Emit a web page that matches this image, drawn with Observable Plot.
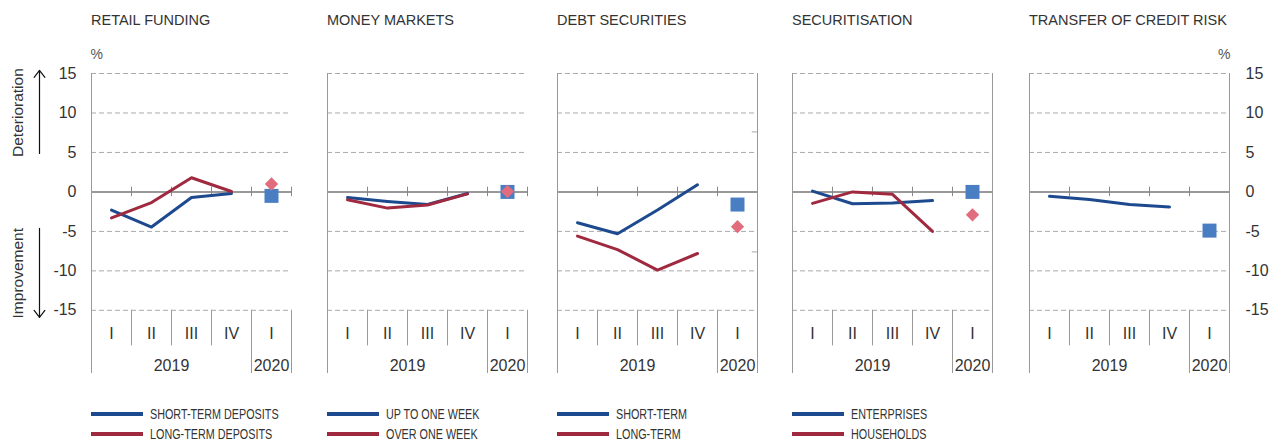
<!DOCTYPE html>
<html><head><meta charset="utf-8">
<script src="https://cdn.jsdelivr.net/npm/d3@7"></script>
<script src="https://cdn.jsdelivr.net/npm/@observablehq/plot@0.6"></script>
<style>
body{margin:0;background:#fff;}
#wrap{position:relative;width:1270px;height:441px;overflow:hidden;font-family:'Liberation Sans',Arial,sans-serif;color:#333;}
.title{position:absolute;top:13px;font-size:14.5px;line-height:14.5px;white-space:nowrap;color:#333;}
.panel{position:absolute;top:40px;}
.leg{position:absolute;height:18px;line-height:18px;white-space:nowrap;font-family:'Liberation Sans',Arial,sans-serif;font-size:14px;color:#333;}
.sw{display:inline-block;width:52px;height:4px;vertical-align:middle;margin-right:7px;position:relative;top:-1px;}
.lt{display:inline-block;transform:scaleX(0.77);transform-origin:0 50%;}
</style></head>
<body><div id="wrap"></div>
<script>
// ---------- data ----------
const panelTitles = ["RETAIL FUNDING","MONEY MARKETS","DEBT SECURITIES","SECURITISATION","TRANSFER OF CREDIT RISK"];
const quarterLabels = ["I","II","III","IV","I"];
const yearLabels = ["2019","2020"];
const yearQuarterCounts = [4,1];
const yTicks = [-15,-10,-5,0,5,10,15];

const legendBlue = ["SHORT-TERM DEPOSITS","UP TO ONE WEEK","SHORT-TERM","ENTERPRISES",null];
const legendRed  = ["LONG-TERM DEPOSITS","OVER ONE WEEK","LONG-TERM","HOUSEHOLDS",null];

// 2019 quarterly values (I..IV)
const retailShort = [-2.3,-4.45,-0.7,-0.2];
const retailLong  = [-3.3,-1.35,1.8,0.05];
const moneyUpWeek = [-0.7,-1.2,-1.6,-0.2];
const moneyOverWeek = [-1.0,-2.05,-1.65,-0.25];
const debtShort = [-3.9,-5.3,-2.3,0.9];
const debtLong  = [-5.6,-7.3,-9.9,-7.8];
const securEnterprises = [0.1,-1.5,-1.4,-1.1];
const securHouseholds  = [-1.45,0.0,-0.3,-5.0];
const transferRisk = [-0.55,-0.95,-1.6,-1.9];

// 2020 Q1 expectations
const blue2020 = [-0.5,0.0,-1.6,0.0,-4.9];
const red2020  = [1.0,0.05,-4.4,-2.9,null];

const blueSeries = [retailShort,moneyUpWeek,debtShort,securEnterprises,transferRisk];
const redSeries  = [retailLong,moneyOverWeek,debtLong,securHouseholds,null];

// ---------- layout / style ----------
const panelLefts = [91,327,557,792,1029];
const panelW = 200;
const BLUE = "#1d4a8e", RED = "#9f2a40", SQ = "#4a7ec3", DIA = "#e06c7d";
const fullRight = [false,false,true,true,true];

const wrap = document.getElementById("wrap");

let acc = 0;
const yearRows = yearLabels.map((y,i)=>{const c = acc + yearQuarterCounts[i]/2; const start = acc; acc += yearQuarterCounts[i]; return {label:y, x:c, start};});
const quarterRows = quarterLabels.map((q,i)=>({label:q, x:i+0.5}));

panelTitles.forEach((t,p)=>{
  const d = document.createElement("div");
  d.className = "title"; d.textContent = t;
  d.style.left = panelLefts[p] + "px";
  wrap.appendChild(d);

  const isFirst = p===0, isLast = p===4;
  const mL = isFirst ? 91 : 10;
  const mR = isLast ? 42 : 10;

  const blue = blueSeries[p].map((v,i)=>({x:i+0.5,y:v}));
  const red = redSeries[p] ? redSeries[p].map((v,i)=>({x:i+0.5,y:v})) : [];
  const x2020 = quarterLabels.length - 0.5;

  const marks = [
    Plot.ruleY(yTicks.filter(v=>v!==0), {x1:0, x2:5, stroke:"#aaa", strokeDasharray:"5,3"}),
    Plot.ruleY([0], {x1:0, x2:5, stroke:"#777", strokeWidth:1.5}),
    Plot.ruleX([1,2,3,4,5], {y1:-0.6, y2:0.6, stroke:"#888"}),
    Plot.ruleX([0], {y1:-23, y2:15, stroke:"#999"}),
    Plot.ruleX([5], {y1:-23, y2: fullRight[p] ? 15 : -15, stroke:"#999"}),
    Plot.ruleX([1,2,3], {y1:-19.5, y2:-15, stroke:"#999"}),
    Plot.ruleX(yearRows.slice(1).map(r=>r.start), {y1:-23, y2:-15, stroke:"#999"}),
    Plot.text(quarterRows, {x:"x", y:()=>-17.95, text:"label", fontSize:16, fill:"#333"}),
    Plot.text(yearRows, {x:"x", y:()=>-22, text:"label", fontSize:16, fill:"#333"}),
    Plot.line(blue, {x:"x", y:"y", stroke:BLUE, strokeWidth:3}),
    red.length ? Plot.line(red, {x:"x", y:"y", stroke:RED, strokeWidth:3}) : null,
    Plot.dot([{x:x2020, y:blue2020[p]}], {x:"x", y:"y", symbol:"square", r:7.9, fill:SQ}),
    red2020[p]!==null ? Plot.dot([{x:x2020, y:red2020[p]}], {x:"x", y:"y", symbol:"diamond2", r:6, fill:DIA}) : null
  ];
  if (p===2) marks.push(Plot.ruleY([7.6,-7.6], {x1:4.87, x2:5, stroke:"#aaa"}));
  if (isFirst) {
    marks.push(Plot.axisY({ticks:yTicks, tickSize:0, tickPadding:15, fontSize:16, tickFormat:d=>String(d), fill:"#333", label:null}));
    marks.push(Plot.text(["%"], {x:()=>0, y:()=>17.4, text:d=>d, textAnchor:"start", dx:-1, fontSize:14, fill:"#555"}));
    marks.push(Plot.text(["Deterioration"], {x:()=>0, y:()=>10.05, text:d=>d, rotate:-90, dx:-73, fontSize:15.5, fill:"#333"}));
    marks.push(Plot.text(["Improvement"], {x:()=>0, y:()=>-10.3, text:d=>d, rotate:-90, dx:-73, fontSize:15.5, fill:"#333"}));
    marks.push(Plot.arrow([{a:4.87,b:15.4}], {x1:()=>0, x2:()=>0, y1:"a", y2:"b", dx:-52, stroke:"#111", strokeWidth:1.2, headLength:11, headAngle:75}));
    marks.push(Plot.arrow([{a:-4.63,b:-15.9}], {x1:()=>0, x2:()=>0, y1:"a", y2:"b", dx:-52, stroke:"#111", strokeWidth:1.2, headLength:11, headAngle:75}));
  }
  if (isLast) {
    marks.push(Plot.axisY({anchor:"right", ticks:yTicks, tickSize:0, tickPadding:16, fontSize:16, tickFormat:d=>String(d), fill:"#333", label:null}));
    marks.push(Plot.text(["%"], {x:()=>5, y:()=>17.4, text:d=>d, textAnchor:"end", dx:1, fontSize:14, fill:"#555"}));
  }

  const chart = Plot.plot({
    width: mL + panelW + mR,
    height: 335,
    marginLeft: mL, marginRight: mR, marginTop: 33, marginBottom: 2,
    x: {domain:[0,5], axis:null},
    y: {domain:[-23,15], axis:null},
    style: {fontFamily:"'Liberation Sans',Arial,sans-serif", fontSize:"16px", color:"#333", background:"transparent", overflow:"visible"},
    marks: marks.filter(Boolean)
  });
  chart.classList.add("panel");
  chart.style.position = "absolute";
  chart.style.left = (panelLefts[p]-mL) + "px";
  chart.style.top = "40px";
  wrap.appendChild(chart);

  [[legendBlue[p],BLUE,405],[legendRed[p],RED,425]].forEach(([lab,col,top])=>{
    if (!lab) return;
    const l = document.createElement("div");
    l.className = "leg";
    l.style.left = panelLefts[p] + "px";
    l.style.top = top + "px";
    l.innerHTML = `<span class="sw" style="background:${col}"></span>`;
    const s = document.createElement("span");
    s.className = "lt"; s.textContent = lab;
    l.appendChild(s);
    wrap.appendChild(l);
  });
});
</script></body></html>
